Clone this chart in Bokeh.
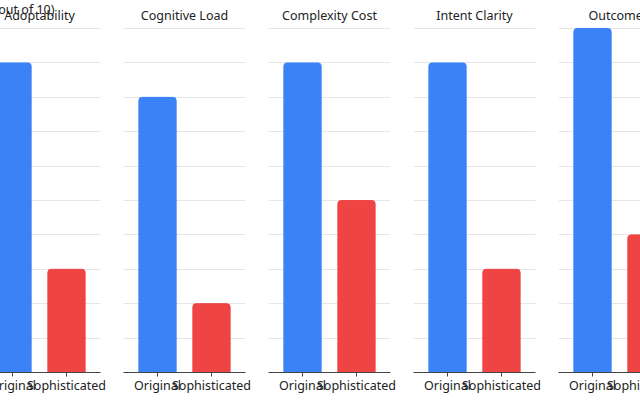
from bokeh.plotting import figure
from bokeh.layouts import row
from bokeh.models import Range1d, FixedTicker, Label, ColumnDataSource
from bokeh.embed import file_html
from bokeh.resources import INLINE

metrics = ["Adoptability", "Cognitive Load", "Complexity Cost", "Intent Clarity", "Outcome Quality"]
versions = ["Original", "Sophisticated"]
original_scores = [9, 8, 9, 9, 10]
sophisticated_scores = [3, 2, 5, 3, 4]
y_title = "Score (out of 10)"
colors = ["#3b82f6", "#ef4444"]

FONT = "Noto Sans"
FS = "12.5px"
FRAME_H = 371          # frame spans from canvas top to the baseline
TOP_PAD = 28           # pixels above the 10 line reserved for the titles
Y_MAX = 10
y_end = Y_MAX * FRAME_H / (FRAME_H - TOP_PAD)
H = 396
figs = []
for i, m in enumerate(metrics):
    last = i == len(metrics) - 1
    p = figure(width=145, height=H, x_range=Range1d(-0.63, 1.63), y_range=Range1d(0, y_end),
               output_backend="svg", toolbar_location=None,
               min_border_left=11, min_border_right=12,
               min_border_top=0, min_border_bottom=20)
    src = ColumnDataSource(dict(x=list(range(len(versions))),
                                top=[original_scores[i], sophisticated_scores[i]],
                                color=colors))
    p.vbar(x="x", top="top", width=0.69, color="color", source=src,
           border_radius=(3, 3, 0, 0))
    p.outline_line_color = None
    p.background_fill_color = "white"
    p.add_layout(Label(x=30 if last else 61, y=FRAME_H - 14, x_units="screen", y_units="screen",
                       text=m, text_align="left" if last else "center",
                       text_baseline="middle", text_font=FONT, text_font_size=FS,
                       text_color="#222222"))
    if i == 0:
        p.add_layout(Label(x=76, y=FRAME_H - 8, x_units="screen", y_units="screen",
                           text=y_title, text_align="right", text_baseline="middle",
                           text_font=FONT, text_font_size=FS, text_color="#222222"))
    p.xgrid.visible = False
    p.yaxis.visible = False
    p.yaxis.ticker = FixedTicker(ticks=list(range(0, Y_MAX + 1)))
    p.ygrid.grid_line_color = "#e6e6e6"
    p.ygrid.grid_line_width = 1
    ax = p.xaxis[0]
    ax.ticker = FixedTicker(ticks=list(range(len(versions))))
    ax.major_label_overrides = {k: v for k, v in enumerate(versions)}
    ax.major_label_text_font = FONT
    ax.major_label_text_font_size = FS
    ax.major_label_text_color = "#222222"
    ax.axis_line_color = "#444444"
    ax.major_tick_line_color = "#444444"
    ax.major_tick_out = 4
    ax.major_tick_in = 0
    ax.minor_tick_out = 0
    ax.minor_tick_in = 0
    ax.major_label_standoff = 0
    figs.append(p)

layout = row(figs, spacing=0, margin=(0, 0, 0, -33), width=673, height=H,
             styles={"overflow": "hidden"})
open("out.html", "w").write(file_html(layout, INLINE))
